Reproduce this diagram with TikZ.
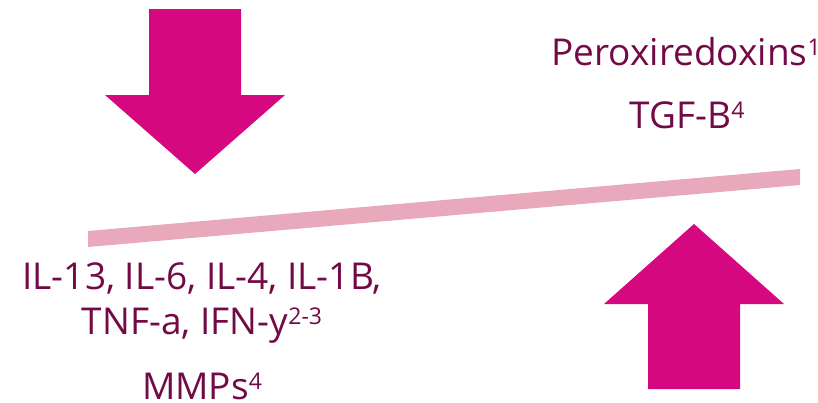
\documentclass[tikz,border=0pt]{standalone}
\usepackage{fontspec}
\setmainfont{Open Sans}
\definecolor{txtc}{HTML}{720A46}
\definecolor{arrc}{HTML}{D6087F}
\definecolor{barc}{HTML}{E8A9BC}
\newcommand{\supx}[1]{\raisebox{10pt}{\fontsize{23}{23}\selectfont #1}}
\tikzset{
  lbl/.style={anchor=base, inner sep=0pt, text=txtc, font=\fontsize{37}{40}\selectfont},
  bigarrow/.style={fill=arrc, draw=none},
}
\begin{document}
\begin{tikzpicture}[x=1pt,y=-1pt]
\useasboundingbox (0,0) rectangle (818,402);
% balance bar
\fill[barc] (88,231) -- (800,169) -- (800,185) -- (88,247) -- cycle;
% down arrow
\path[bigarrow] (149,9) -- (241,9) -- (241,95) -- (285,95) -- (195,174) -- (105,95) -- (149,95) -- cycle;
% up arrow
\path[bigarrow] (648,389) -- (740,389) -- (740,304) -- (784,304) -- (694,224) -- (604,304) -- (648,304) -- cycle;
% texts
\node[lbl] (prx) at (686,65) {Peroxiredoxins\supx{1}};
\node[lbl] (tgf) at (687,128) {TGF-B\supx{4}};
\node[lbl] (il) at (202,289) {IL-13, IL-6, IL-4, IL-1B,};
\node[lbl] (tnf) at (202,334) {TNF-a, IFN-y\supx{2-3}};
\node[lbl, text depth=0pt] (mmp) at (202,399) {MMPs\supx{4}};
\end{tikzpicture}
\end{document}
